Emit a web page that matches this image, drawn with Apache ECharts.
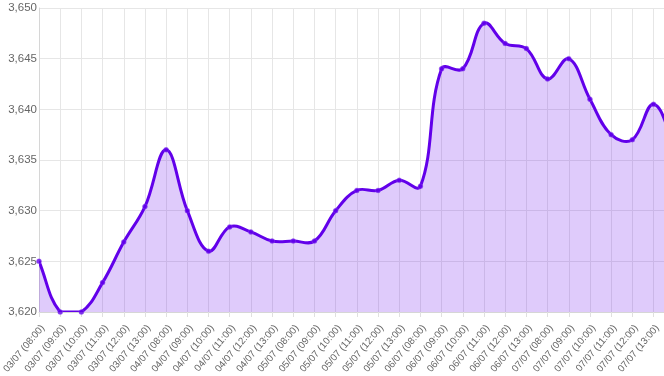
<!DOCTYPE html>
<html>
<head>
<meta charset="utf-8">
<script src="https://cdn.jsdelivr.net/npm/echarts@6/dist/echarts.min.js"></script>
<style>
  html, body { margin: 0; padding: 0; background: #fff; }
  #myChart { width: 664px; height: 376px; }
</style>
</head>
<body>
<div id="myChart"></div>
<script>
  // categories (the last one sits just past the right edge and is clipped)
  var categories = [
    '03/07 (08:00)', '03/07 (09:00)', '03/07 (10:00)', '03/07 (11:00)', '03/07 (12:00)', '03/07 (13:00)',
    '04/07 (08:00)', '04/07 (09:00)', '04/07 (10:00)', '04/07 (11:00)', '04/07 (12:00)', '04/07 (13:00)',
    '05/07 (08:00)', '05/07 (09:00)', '05/07 (10:00)', '05/07 (11:00)', '05/07 (12:00)', '05/07 (13:00)',
    '06/07 (08:00)', '06/07 (09:00)', '06/07 (10:00)', '06/07 (11:00)', '06/07 (12:00)', '06/07 (13:00)',
    '07/07 (08:00)', '07/07 (09:00)', '07/07 (10:00)', '07/07 (11:00)', '07/07 (12:00)', '07/07 (13:00)',
    '08/07 (08:00)'
  ];
  var prices = [
    3625, 3620, 3620, 3622.9, 3626.9, 3630.4,
    3636, 3630, 3626, 3628.4, 3627.9, 3627,
    3627, 3627, 3630, 3632, 3632, 3633,
    3632.4, 3644, 3644, 3648.5, 3646.5, 3646,
    3643, 3645, 3641, 3637.5, 3637, 3640.5,
    3636.5
  ];
  var yMin = 3620, yMax = 3650, yStep = 5;
  var tension = 0.4;

  // a spline shape (cardinal style, control points capped to the plot area)
  var SplinePath = echarts.graphic.extendShape({
    shape: { pts: [], cps: [], baseY: null },
    buildPath: function (ctx, shape) {
      var p = shape.pts, c = shape.cps;
      if (!p.length) return;
      ctx.moveTo(p[0][0], p[0][1]);
      for (var i = 1; i < p.length; i++) {
        ctx.bezierCurveTo(c[i - 1].nx, c[i - 1].ny, c[i].px, c[i].py, p[i][0], p[i][1]);
      }
      if (shape.baseY != null) {
        ctx.lineTo(p[p.length - 1][0], shape.baseY);
        ctx.lineTo(p[0][0], shape.baseY);
        ctx.closePath();
      }
    }
  });
  echarts.graphic.registerShape('splinePath', SplinePath);

  function controlPoints(pts, left, right, top, bottom) {
    var cps = [];
    for (var i = 0; i < pts.length; i++) {
      var cur = pts[i];
      var prev = pts[i - 1] || cur;
      var next = pts[i + 1] || cur;
      var d01 = Math.hypot(cur[0] - prev[0], cur[1] - prev[1]);
      var d12 = Math.hypot(next[0] - cur[0], next[1] - cur[1]);
      var s01 = d01 / (d01 + d12), s12 = d12 / (d01 + d12);
      if (isNaN(s01)) s01 = 0;
      if (isNaN(s12)) s12 = 0;
      var fa = tension * s01, fb = tension * s12;
      var cp = {
        px: cur[0] - fa * (next[0] - prev[0]),
        py: cur[1] - fa * (next[1] - prev[1]),
        nx: cur[0] + fb * (next[0] - prev[0]),
        ny: cur[1] + fb * (next[1] - prev[1])
      };
      cp.px = Math.min(Math.max(cp.px, left), right);
      cp.nx = Math.min(Math.max(cp.nx, left), right);
      cp.py = Math.min(Math.max(cp.py, top), bottom);
      cp.ny = Math.min(Math.max(cp.ny, top), bottom);
      cps.push(cp);
    }
    return cps;
  }

  var myChart = echarts.init(document.getElementById('myChart'));
  var option = {
    animation: false,
    grid: { left: 39, right: -10.7, top: 8, bottom: 64, outerBoundsMode: 'none', containLabel: false },
    xAxis: {
      type: 'category',
      data: categories,
      boundaryGap: false,
      axisLine: { lineStyle: { color: '#d6d6d6' } },
      axisTick: { show: true, length: 5, lineStyle: { color: '#e0e0e0' } },
      splitLine: { show: true, lineStyle: { color: '#e6e6e6' } },
      axisLabel: {
        interval: function (index) { return index < categories.length - 1; },
        rotate: 50,
        align: 'right',
        verticalAlign: 'top',
        color: '#666',
        fontFamily: 'Liberation Sans',
        fontSize: 9.8,
        margin: 11
      }
    },
    yAxis: {
      type: 'value',
      min: yMin,
      max: yMax,
      interval: yStep,
      axisLine: { show: true, lineStyle: { color: '#d6d6d6' } },
      axisTick: { show: false },
      splitLine: { lineStyle: { color: '#e6e6e6' } },
      axisLabel: {
        color: '#666',
        fontFamily: 'Liberation Sans',
        fontSize: 11.5,
        margin: 2,
        formatter: function (v) { return v.toLocaleString('en-US'); }
      }
    },
    series: [
      {
        type: 'custom',
        coordinateSystem: 'cartesian2d',
        data: [[0, prices[0]]],
        clip: true,
        renderItem: function (params, api) {
          var pts = prices.map(function (v, i) { return api.coord([i, v]); });
          var top = api.coord([0, yMax])[1];
          var bottom = api.coord([0, yMin])[1];
          var left = pts[0][0];
          var right = pts[pts.length - 1][0];
          var cps = controlPoints(pts, left, right, top, bottom);
          return {
            type: 'group',
            children: [
              {
                type: 'splinePath',
                shape: { pts: pts, cps: cps, baseY: bottom },
                style: { fill: 'rgba(110, 20, 235, 0.22)', stroke: null }
              },
              {
                type: 'splinePath',
                shape: { pts: pts, cps: cps, baseY: null },
                style: { fill: null, stroke: '#6200ea', lineWidth: 3, lineJoin: 'round' }
              }
            ]
          };
        }
      },
      {
        type: 'scatter',
        data: prices,
        symbol: 'circle',
        symbolSize: 5,
        itemStyle: { color: '#6200ea', borderColor: 'rgba(150, 90, 240, 0.8)', borderWidth: 0.5 },
        z: 3
      }
    ]
  };
  myChart.setOption(option);
</script>
</body>
</html>
